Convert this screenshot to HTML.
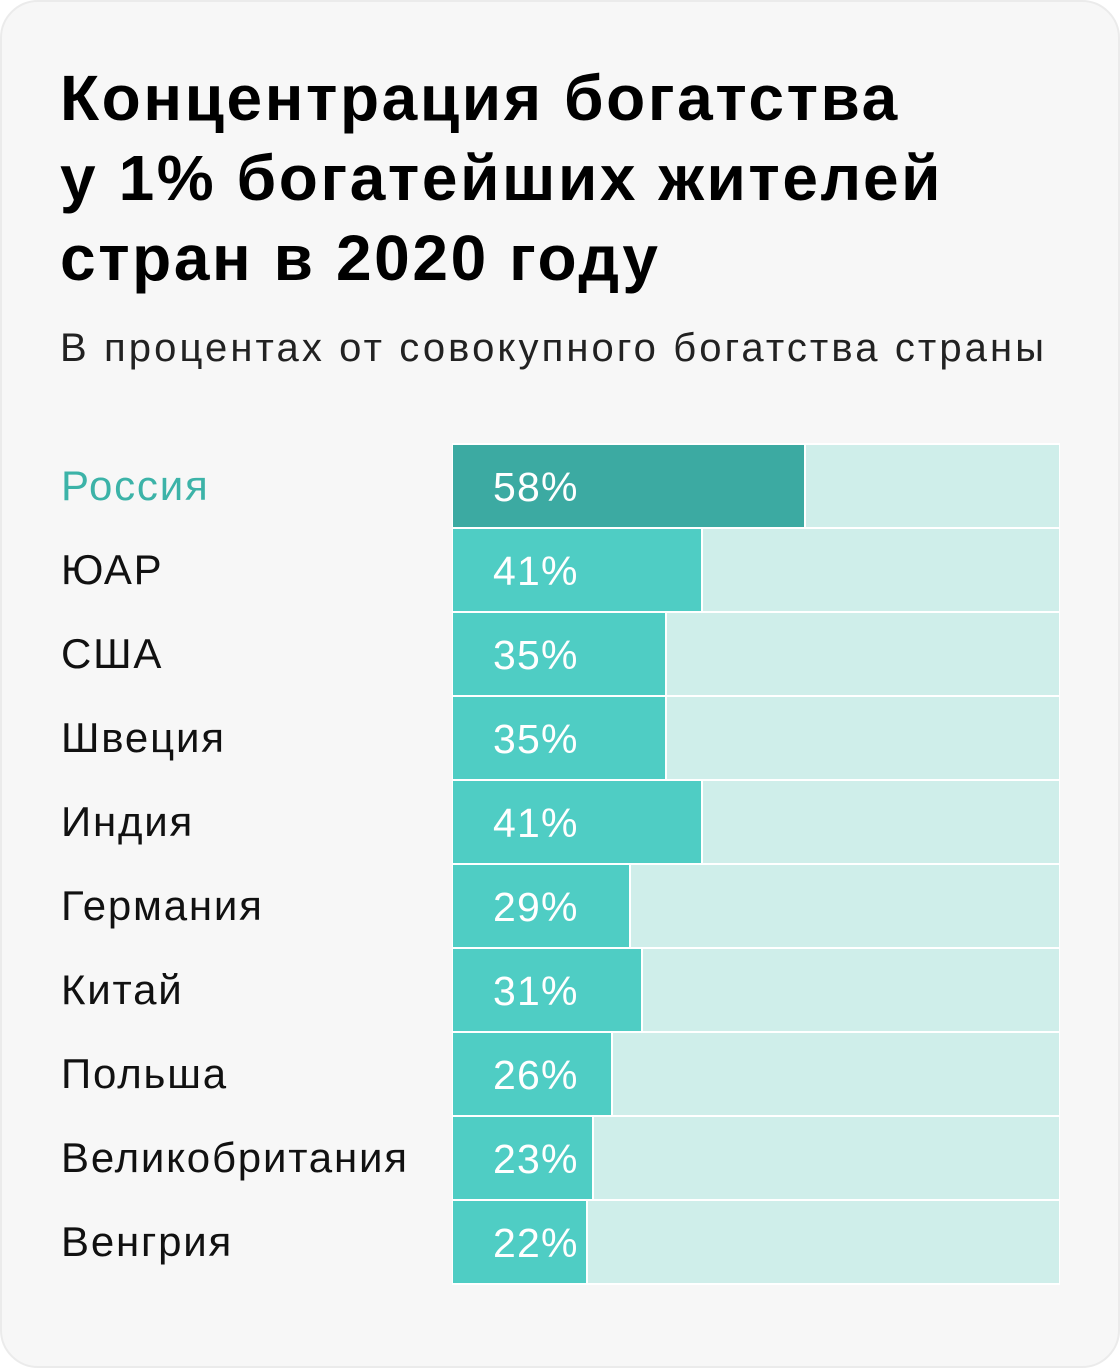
<!DOCTYPE html><html><head><meta charset="utf-8"><style>
body{margin:0;width:1120px;height:1368px;background:#fff;font-family:"Liberation Sans",sans-serif}
.card{position:absolute;left:0;top:0;width:1116px;height:1364px;border:2px solid #ebebeb;border-radius:38px;background:#f7f7f7}
h1{position:absolute;left:60px;top:58px;margin:0;font-size:64px;line-height:80px;font-weight:bold;color:#000;letter-spacing:2.6px}
.sub{position:absolute;left:60px;top:326px;font-size:40px;color:#222;letter-spacing:3.1px}
.chart{position:absolute;left:452px;top:443px;width:608px;height:842px;background:#fff}
.row{position:absolute;left:1px;width:606px;height:82px;background:#cfeeea}
.bar{position:absolute;left:0;top:0;height:82px;background:#4fcdc4;border-right:2px solid #fff}
.pct{position:absolute;left:40px;top:0;line-height:84px;font-size:41px;color:#fff;letter-spacing:1.2px}
.lab{position:absolute;left:61px;font-size:42px;line-height:84px;color:#111;letter-spacing:1.8px}
</style></head><body><div class="card"></div>
<h1>Концентрация богатства<br>у 1% богатейших жителей<br>стран в 2020 году</h1>
<div class="sub">В процентах от совокупного богатства страны</div>
<div class="chart"></div>
<div id="c"></div>
<script>
var d=[["Россия",58],["ЮАР",41],["США",35],["Швеция",35],["Индия",41],["Германия",29],["Китай",31],["Польша",26],["Великобритания",23],["Венгрия",22]];
var h="";d.forEach(function(r,i){var t=444+i*84;
h+='<div class="lab" style="top:'+t+'px;'+(i==0?'color:#3cb3a8':'')+'">'+r[0]+'</div>';
h+='<div class="row" style="left:453px;top:'+(t+1)+'px"><div class="bar" style="width:'+Math.round(r[1]*6.06)+'px;'+(i==0?'background:#3caaa2':'')+'"></div><div class="pct">'+r[1]+'%</div></div>';});
document.getElementById("c").innerHTML=h;
</script></body></html>
